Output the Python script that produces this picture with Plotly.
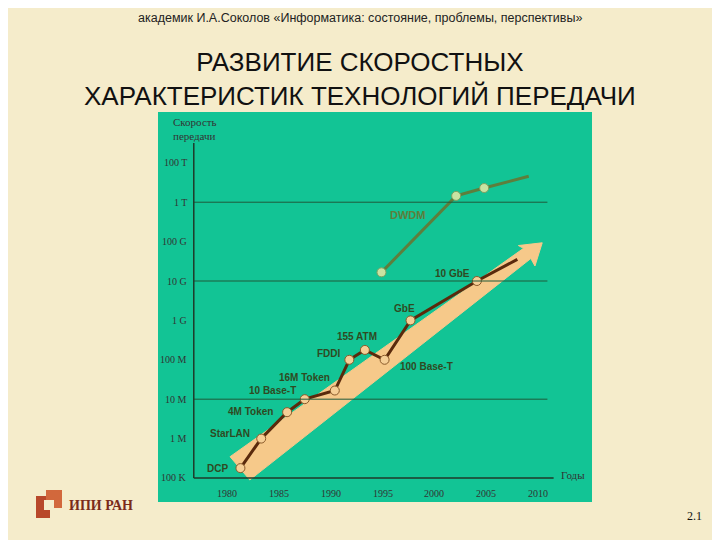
import plotly.graph_objects as go

# y is the step index on the speed scale (each step one label)
speed_labels = ['100 K', '1 M', '10 M', '100 M', '1 G', '10 G', '100 G', '1 T', '100 T']
year_ticks = [1980, 1985, 1990, 1995, 2000, 2005, 2010]

lan_names = ['DCP', 'StarLAN', '4M Token', '10 Base-T', '16M Token', 'FDDI',
             '155 ATM', '100 Base-T', 'GbE', '10 GbE', '']
lan_years = [1981.3, 1983.3, 1985.8, 1987.5, 1990.4, 1991.8, 1993.3, 1995.2, 1997.7, 2004.1, 2008.0]
lan_speed = [0.25, 1.0, 1.67, 2.0, 2.22, 3.0, 3.25, 3.0, 4.0, 5.0, 5.55]

dwdm_years = [1994.9, 2002.1, 2004.8, 2009.1]
dwdm_speed = [5.22, 7.16, 7.36, 7.66]

# trend arrow outline
arrow_x = [1980.3, 2008.6, 2008.1, 2010.4, 2009.7, 2009.3, 1982.2]
arrow_y = [0.54, 5.83, 5.9, 5.97, 5.38, 5.57, -0.05]

# where each label sits relative to its point (years, steps)
label_shift = {'DCP': (-2.2, -0.02), 'StarLAN': (-3.0, 0.14), '4M Token': (-3.5, 0.01),
               '10 Base-T': (-3.1, 0.21), '16M Token': (-2.9, 0.32), 'FDDI': (-2.0, 0.15),
               '155 ATM': (-0.8, 0.35), '100 Base-T': (4.0, -0.18), 'GbE': (-0.6, 0.29),
               '10 GbE': (-2.4, 0.2)}

W, H, OFF = 720, 540, 8  # the page is drawn 8px in from the window corner


def px(x):
    return (x - OFF) / W


def py(y):
    return 1 - (y - OFF) / H


fig = go.Figure()

fig.add_trace(go.Scatter(x=arrow_x + [arrow_x[0]], y=arrow_y + [arrow_y[0]], fill='toself',
                         fillcolor='#F6C98A', line=dict(color='#F6C98A', width=1),
                         mode='lines', hoverinfo='skip'))
fig.add_trace(go.Scatter(x=lan_years, y=lan_speed, mode='lines',
                         line=dict(color='#5A2A0C', width=3)))
fig.add_trace(go.Scatter(x=lan_years[:-1], y=lan_speed[:-1], mode='markers',
                         marker=dict(size=9, color='#F6CF96', line=dict(color='#8A5A2A', width=1))))
fig.add_trace(go.Scatter(x=dwdm_years, y=dwdm_speed, mode='lines',
                         line=dict(color='#5E7E3C', width=3)))
fig.add_trace(go.Scatter(x=dwdm_years[:-1], y=dwdm_speed[:-1], mode='markers',
                         marker=dict(size=9, color='#C9E3A2', line=dict(color='#7FA060', width=1))))

# grid lines and axes
for lv in [2, 5, 7]:
    fig.add_shape(type='line', x0=1976.8, x1=2010.9, y0=lv, y1=lv, line=dict(color='#1F5A3A', width=1))
fig.add_shape(type='line', x0=1976.8, x1=1976.8, y0=0, y1=8.5, line=dict(color='#1F3A2A', width=1.5))
fig.add_shape(type='line', x0=1976.8, x1=2011.5, y0=0, y1=0, line=dict(color='#1F3A2A', width=1.5))

serif = dict(family='Liberation Serif', size=10, color='#333333')
ann = []
for i, s in enumerate(speed_labels):
    ann.append(dict(x=1976.3, y=i, text=s, showarrow=False, xanchor='right', font=serif))
for yr in year_ticks:
    ann.append(dict(x=yr, y=-0.4, text=str(yr), showarrow=False, font=serif))
ann.append(dict(x=1974.6, y=8.85, text='Скорость<br>передачи', showarrow=False, xanchor='left',
                yanchor='middle', align='left',
                font=dict(family='Liberation Serif', size=11, color='#333333')))
ann.append(dict(x=2012.0, y=0.08, text='Годы', showarrow=False, xanchor='left',
                font=dict(family='Liberation Serif', size=11, color='#333333')))

lbl = dict(family='Liberation Sans', size=10, color='#2F4A22')
for n, x, y in zip(lan_names, lan_years, lan_speed):
    if n in label_shift:
        dx, dy = label_shift[n]
        ann.append(dict(x=x + dx, y=y + dy, text='<b>' + n + '</b>', showarrow=False, font=lbl))
ann.append(dict(x=1997.4, y=6.68, text='<b>DWDM</b>', showarrow=False,
                font=dict(family='Liberation Sans', size=11, color='#5E7E3C')))

# page texts
ann.append(dict(x=px(360), y=py(18), xref='paper', yref='paper', yanchor='middle',
                text='академик И.А.Соколов «Информатика: состояние, проблемы, перспективы»',
                showarrow=False, font=dict(family='Liberation Sans', size=12.5, color='#222222')))
ann.append(dict(x=px(360), y=py(79), xref='paper', yref='paper', yanchor='middle',
                text='РАЗВИТИЕ СКОРОСТНЫХ<br>ХАРАКТЕРИСТИК ТЕХНОЛОГИЙ ПЕРЕДАЧИ',
                showarrow=False, font=dict(family='Liberation Sans', size=26, color='#111111')))
ann.append(dict(x=px(67), y=py(505), xref='paper', yref='paper', yanchor='middle',
                text='<b>ИПИ РАН</b>', showarrow=False, xanchor='left',
                font=dict(family='Liberation Serif', size=14, color='#7A2A1A')))
ann.append(dict(x=px(704), y=py(516), xref='paper', yref='paper', yanchor='middle',
                text='2.1', showarrow=False, xanchor='right',
                font=dict(family='Liberation Serif', size=12, color='#111111')))

# small logo mark: two interlocked blocks
fig.add_shape(type='rect', xref='paper', yref='paper', x0=px(36), x1=px(50), y0=py(518), y1=py(496),
              fillcolor='#B8482A', line_width=0)
fig.add_shape(type='rect', xref='paper', yref='paper', x0=px(46), x1=px(62), y0=py(508), y1=py(490),
              fillcolor='#D2683C', line_width=0)
fig.add_shape(type='rect', xref='paper', yref='paper', x0=px(44), x1=px(54), y0=py(510), y1=py(500),
              fillcolor='#F5ECCB', line_width=0)

fig.update_layout(
    width=W, height=H, autosize=False, showlegend=False,
    paper_bgcolor='#F5ECCB', plot_bgcolor='#12C495',
    margin=dict(l=0, r=0, t=0, b=0),
    xaxis=dict(range=[1973.35, 2015.2], visible=False, fixedrange=True,
               domain=[px(158), px(592)]),
    yaxis=dict(range=[-0.61, 9.29], visible=False, fixedrange=True,
               domain=[py(502), py(112)]),
    annotations=ann,
)

fig.write_html('out.html')
